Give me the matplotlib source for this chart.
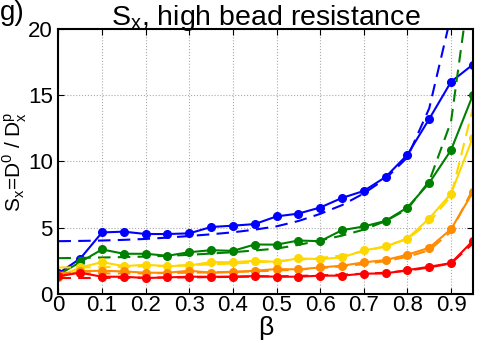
import numpy as np
import matplotlib
matplotlib.use("Agg")
import matplotlib.pyplot as plt

plt.rcParams['font.family'] = ['Liberation Sans', 'DejaVu Sans']
plt.rcParams['mathtext.fontset'] = 'custom'
plt.rcParams['mathtext.rm'] = 'Liberation Sans'

beta = [0, 0.05, 0.1, 0.15, 0.2, 0.25, 0.3, 0.35, 0.4, 0.45,
        0.5, 0.55, 0.6, 0.65, 0.7, 0.75, 0.8, 0.85, 0.9, 0.95]

# simulation (solid, markers)
s_blue = [1.55, 2.67, 4.64, 4.7, 4.52, 4.52, 4.57, 5.05, 5.15, 5.27,
          5.85, 6.06, 6.52, 7.24, 7.77, 8.82, 10.5, 13.2, 16.0, 17.3]
s_green = [1.45, 2.4, 3.36, 3.03, 3.03, 2.88, 3.15, 3.3, 3.25, 3.73,
           3.72, 4.03, 3.98, 4.81, 5.09, 5.51, 6.52, 8.37, 10.85, 15.0]
s_yellow = [1.3, 2.0, 2.4, 2.1, 2.2, 2.1, 2.15, 2.4, 2.4, 2.5,
            2.42, 2.68, 2.63, 2.75, 3.28, 3.58, 4.18, 5.69, 7.57, 11.8]
s_orange = [1.25, 1.72, 1.75, 1.7, 1.6, 1.6, 1.75, 1.6, 1.65, 1.75,
            1.88, 1.85, 2.0, 2.13, 2.38, 2.56, 2.96, 3.48, 4.89, 7.67]
s_red = [1.35, 1.6, 1.3, 1.3, 1.2, 1.25, 1.3, 1.3, 1.3, 1.35,
         1.3, 1.3, 1.38, 1.38, 1.53, 1.55, 1.8, 2.05, 2.33, 4.0]

# theory (dashed)
t_blue = [3.98, 4.0, 4.03, 4.08, 4.15, 4.25, 4.37, 4.5, 4.65, 4.85,
          5.1, 5.5, 6.04, 6.7, 7.58, 8.7, 10.3, 14.0, 21.0, 45.0]
t_green = [2.7, 2.72, 2.75, 2.78, 2.82, 2.88, 2.95, 3.05, 3.15, 3.28,
           3.42, 3.7, 4.04, 4.4, 4.85, 5.5, 6.4, 8.5, 13.0, 25.0]
t_yellow = [2.0, 2.0, 2.02, 2.05, 2.08, 2.12, 2.17, 2.23, 2.3, 2.38,
            2.48, 2.58, 2.72, 2.9, 3.2, 3.6, 4.15, 5.4, 7.4, 14.0]
t_orange = [1.6, 1.57, 1.55, 1.55, 1.56, 1.58, 1.6, 1.63, 1.67, 1.71,
            1.76, 1.84, 1.95, 2.08, 2.25, 2.48, 2.8, 3.3, 4.7, 7.9]
t_red = [1.2, 1.2, 1.21, 1.22, 1.23, 1.24, 1.25, 1.27, 1.29, 1.31,
         1.33, 1.36, 1.4, 1.46, 1.53, 1.6, 1.75, 2.0, 2.3, 3.8]

colors = ['#0000ff', '#008000', '#ffd700', '#ff8c00', '#ff0000']
sims = [s_blue, s_green, s_yellow, s_orange, s_red]
theo = [t_blue, t_green, t_yellow, t_orange, t_red]

fig = plt.figure(figsize=(4.91, 3.43), dpi=100)
ax = fig.add_axes([0.119, 0.143, 0.844, 0.773])

for c, s, t in zip(colors, sims, theo):
    ax.plot(beta, t, '--', color=c, lw=1.5, dashes=(6, 3.5))
    ax.plot(beta, s, '-o', color=c, lw=1.5, ms=5.5)

ax.set_xlim(0, 0.95)
ax.set_ylim(0, 20)
ax.set_xticks([0, 0.1, 0.2, 0.3, 0.4, 0.5, 0.6, 0.7, 0.8, 0.9])
ax.set_xticklabels(['0', '0.1', '0.2', '0.3', '0.4', '0.5', '0.6', '0.7', '0.8', '0.9'])
ax.set_yticks([0, 5, 10, 15, 20])
ax.tick_params(direction='in', top=True, right=True, labelsize=16, length=4)
ax.tick_params(axis='x', pad=1)
ax.tick_params(axis='y', pad=4)
ax.grid(True, ls=':', color='#aaaaaa', lw=0.8)
for sp in ax.spines.values():
    sp.set_linewidth(1.5)

ax.set_xlabel('β', fontsize=19, labelpad=0)
ax.set_ylabel('S$_\\mathregular{x}$=D$^\\mathregular{0}$ / D$_\\mathregular{x}^\\mathregular{p}$', fontsize=15)
ax.yaxis.set_label_coords(-0.072, 0.5)
ax.set_title('S$_\\mathregular{x}$, high bead resistance', fontsize=20.5, pad=3)
fig.text(0.0, 0.925, 'g)', fontsize=20, ha='left', va='bottom')

fig.savefig('out.png', dpi=100)
